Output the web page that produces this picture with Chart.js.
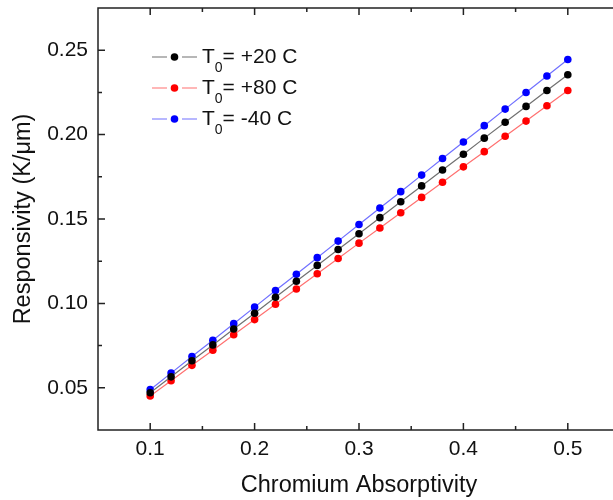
<!DOCTYPE html>
<html>
<head>
<meta charset="utf-8">
<script src="https://cdn.jsdelivr.net/npm/chart.js@4.4.1/dist/chart.umd.min.js"></script>
<style>
  html, body { margin: 0; padding: 0; background: #fff; overflow: hidden; }
  #wrap { width: 613px; height: 500px; overflow: hidden; }
</style>
</head>
<body>
<div id="wrap"><canvas id="chart" width="630" height="500"></canvas></div>
<script>
// absorptivity values (x)
const absorptivity = [0.10, 0.12, 0.14, 0.16, 0.18, 0.20, 0.22, 0.24, 0.26, 0.28, 0.30,
                      0.32, 0.34, 0.36, 0.38, 0.40, 0.42, 0.44, 0.46, 0.48, 0.50];
// responsivity K/um
const resp20 = [0.0471, 0.0565, 0.0660, 0.0754, 0.0848, 0.0942, 0.1036, 0.1131, 0.1225, 0.1319, 0.1413,
                0.1508, 0.1602, 0.1696, 0.1790, 0.1884, 0.1979, 0.2073, 0.2167, 0.2261, 0.2355];
const resp80 = [0.0452, 0.0542, 0.0633, 0.0723, 0.0814, 0.0904, 0.0995, 0.1085, 0.1176, 0.1266, 0.1357,
                0.1447, 0.1537, 0.1628, 0.1718, 0.1809, 0.1899, 0.1990, 0.2080, 0.2171, 0.2261];
const respM40 = [0.0489, 0.0587, 0.0685, 0.0782, 0.0880, 0.0978, 0.1076, 0.1173, 0.1271, 0.1369, 0.1467,
                 0.1565, 0.1662, 0.1760, 0.1858, 0.1956, 0.2053, 0.2151, 0.2249, 0.2347, 0.2445];

const xTicks = [0.1, 0.2, 0.3, 0.4, 0.5];
const xMinorTicks = [0.15, 0.25, 0.35, 0.45];
const yTicks = [0.05, 0.10, 0.15, 0.20, 0.25];
const yMinorTicks = [0.075, 0.125, 0.175, 0.225];

// legend text: "T" + subscript "0" + rest
const legendMain = ["T", "T", "T"];
const legendSub = ["0", "0", "0"];
const legendRest = ["= +20 C", "= +80 C", "= -40 C"];

const FONT = "'Liberation Sans', Arial, Helvetica, sans-serif";

function toPoints(ys) {
    return absorptivity.map((x, i) => ({ x: x, y: ys[i] }));
}

// frame with inward ticks on all four sides
const framePlugin = {
    id: 'frame',
    afterDatasetsDraw(chart) {
        const c = chart.ctx;
        const a = chart.chartArea;
        const xs = chart.scales.x, ys = chart.scales.y;
        c.save();
        c.strokeStyle = '#222';
        c.lineWidth = 1.5;
        c.strokeRect(a.left, a.top, a.right - a.left, a.bottom - a.top);
        c.beginPath();
        const tick = (vals, len) => {
            vals.forEach(v => {
                const px = xs.getPixelForValue(v);
                c.moveTo(px, a.bottom); c.lineTo(px, a.bottom - len);
                c.moveTo(px, a.top); c.lineTo(px, a.top + len);
            });
        };
        const ytick = (vals, len) => {
            vals.forEach(v => {
                const py = ys.getPixelForValue(v);
                c.moveTo(a.left, py); c.lineTo(a.left + len, py);
                c.moveTo(a.right, py); c.lineTo(a.right - len, py);
            });
        };
        tick(xTicks, 7);
        tick(xMinorTicks, 4);
        ytick(yTicks, 7);
        ytick(yMinorTicks, 4);
        c.stroke();
        c.restore();
    }
};

// legend with subscript, drawn inside the plot
const legendPlugin = {
    id: 'subLegend',
    afterDatasetsDraw(chart) {
        const c = chart.ctx;
        const a = chart.chartArea;
        const x0 = a.left + 54;
        let y = a.top + 49;
        c.save();
        chart.data.datasets.forEach((ds, i) => {
            c.strokeStyle = ds.borderColor;
            c.lineWidth = 1.2;
            c.beginPath();
            c.moveTo(x0, y); c.lineTo(x0 + 15, y);
            c.moveTo(x0 + 30, y); c.lineTo(x0 + 45, y);
            c.stroke();
            c.fillStyle = ds.pointBackgroundColor;
            c.beginPath();
            c.arc(x0 + 22.5, y, 3.8, 0, Math.PI * 2);
            c.fill();

            c.fillStyle = '#111';
            c.textBaseline = 'middle';
            c.font = '21px ' + FONT;
            let tx = x0 + 50;
            c.fillText(legendMain[i], tx, y);
            tx += c.measureText(legendMain[i]).width;
            c.font = '14px ' + FONT;
            c.fillText(legendSub[i], tx, y + 11);
            tx += c.measureText(legendSub[i]).width;
            c.font = '21px ' + FONT;
            c.fillText(legendRest[i], tx, y);
            y += 31;
        });
        c.restore();
    }
};

new Chart(document.getElementById('chart'), {
    type: 'line',
    data: {
        datasets: [{
            label: legendMain[0] + legendSub[0] + legendRest[0],
            data: toPoints(resp20),
            borderColor: '#707070',
            pointBackgroundColor: '#000',
            pointBorderColor: '#000'
        }, {
            label: legendMain[1] + legendSub[1] + legendRest[1],
            data: toPoints(resp80),
            borderColor: '#ff7070',
            pointBackgroundColor: '#ff0000',
            pointBorderColor: '#ff0000'
        }, {
            label: legendMain[2] + legendSub[2] + legendRest[2],
            data: toPoints(respM40),
            borderColor: '#7070ff',
            pointBackgroundColor: '#0000ff',
            pointBorderColor: '#0000ff'
        }]
    },
    options: {
        responsive: false,
        animation: false,
        layout: { padding: { top: 8, right: 10, left: 0, bottom: 0 } },
        elements: {
            line: { borderWidth: 1.2, tension: 0 },
            point: { radius: 3.8, borderWidth: 0, hoverRadius: 3.8 }
        },
        plugins: {
            legend: { display: false },
            tooltip: { enabled: false }
        },
        scales: {
            x: {
                type: 'linear',
                min: 0.05,
                max: 0.55,
                grid: { display: false, drawTicks: false },
                border: { display: false },
                afterBuildTicks: s => { s.ticks = xTicks.map(v => ({ value: v })); },
                afterFit: s => { s.height = 70; s.paddingLeft = 0; s.paddingRight = 0; },
                ticks: {
                    padding: 7,
                    color: '#111',
                    font: { family: FONT, size: 21 },
                    callback: v => v.toFixed(1)
                },
                title: {
                    display: true,
                    text: 'Chromium Absorptivity',
                    color: '#111',
                    font: { family: FONT, size: 23.5 },
                    padding: { top: 3, bottom: 0 }
                }
            },
            y: {
                type: 'linear',
                min: 0.025,
                max: 0.275,
                grid: { display: false, drawTicks: false },
                border: { display: false },
                afterBuildTicks: s => { s.ticks = yTicks.map(v => ({ value: v })); },
                afterFit: s => { s.width = 98; s.paddingTop = 0; s.paddingBottom = 0; },
                ticks: {
                    padding: 10,
                    color: '#111',
                    font: { family: FONT, size: 21 },
                    callback: v => v.toFixed(2)
                },
                title: {
                    display: true,
                    text: 'Responsivity (K/\u03bcm)',
                    color: '#111',
                    font: { family: FONT, size: 23.5 },
                    padding: { top: 9, bottom: 0 }
                }
            }
        }
    },
    plugins: [framePlugin, legendPlugin]
});
</script>
</body>
</html>
